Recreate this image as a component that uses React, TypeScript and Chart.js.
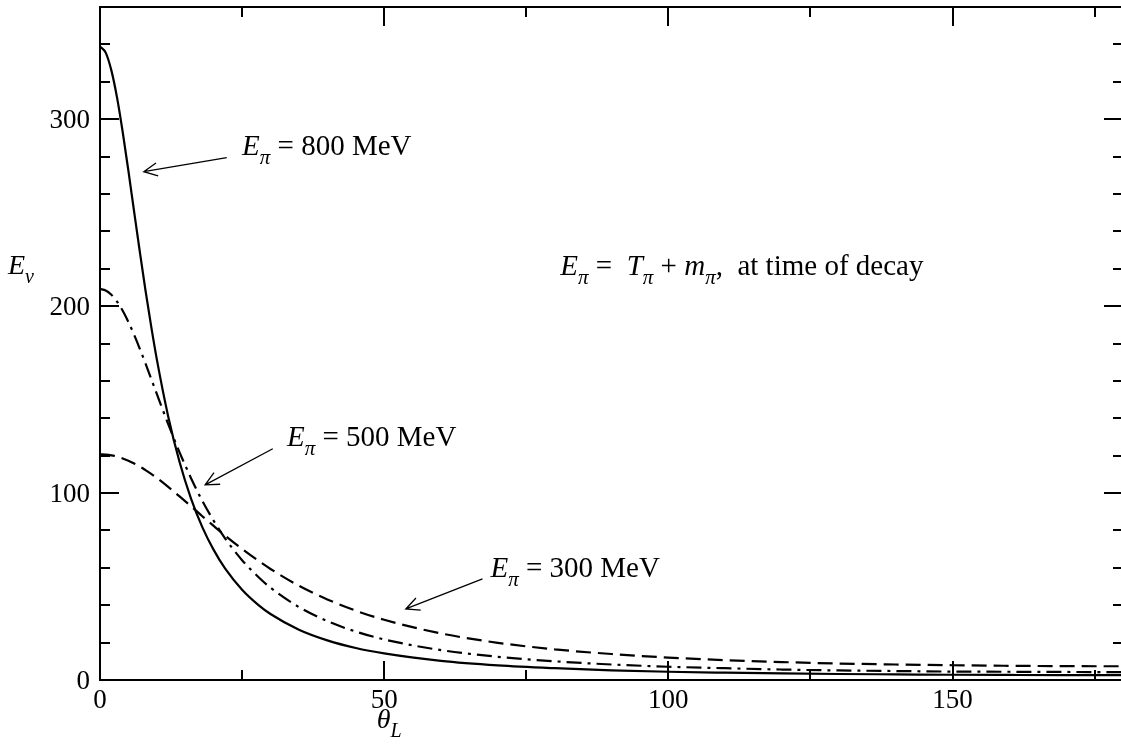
import React, { useEffect, useRef } from "react";
import { Chart, registerables } from "chart.js";

Chart.register(...registerables);

// ---- data ----
const thetaDeg = [0, 1, 2, 3, 4, 5, 6, 7, 8, 9, 10, 12, 14, 16, 18, 20, 22, 25, 28, 30, 35, 40, 45, 50, 60, 70, 80, 90, 100, 110, 120, 130, 140, 150, 160, 170, 180];
const e800 = [338.9, 335.6, 326.1, 311.5, 293.0, 272.3, 250.6, 229.2, 208.5, 189.3, 171.5, 141.0, 116.6, 97.2, 81.8, 69.6, 59.7, 48.3, 39.8, 35.3, 26.9, 21.2, 17.1, 14.2, 10.2, 7.8, 6.3, 5.2, 4.4, 3.9, 3.5, 3.2, 3.0, 2.8, 2.7, 2.6, 2.6];
const e500 = [209.2, 208.4, 206.1, 202.4, 197.5, 191.5, 184.7, 177.2, 169.4, 161.2, 153.0, 136.9, 121.8, 108.1, 95.8, 85.2, 75.8, 64.1, 54.7, 49.4, 39.0, 31.5, 25.9, 21.7, 16.0, 12.4, 10.0, 8.3, 7.1, 6.3, 5.6, 5.1, 4.8, 4.5, 4.4, 4.3, 4.2];
const e300 = [120.7, 120.6, 120.2, 119.5, 118.5, 117.3, 115.8, 114.2, 112.3, 110.3, 108.1, 103.3, 98.2, 93.0, 87.6, 82.4, 77.3, 70.1, 63.5, 59.4, 50.4, 43.1, 37.1, 32.2, 24.9, 19.9, 16.4, 13.9, 12.0, 10.6, 9.6, 8.8, 8.3, 7.9, 7.6, 7.4, 7.35];

const xRange = [0, 180];
const yRange = [0, 360];
const xMajorTicks = [0, 50, 100, 150];
const yMajorTicks = [0, 100, 200, 300];
const xMinorStep = 25;
const yMinorStep = 20;

type Seg = { t: string; it?: boolean; sub?: boolean };

const labelAnnotations: { segs: Seg[]; x: number; y: number; from: number[]; to: number[] }[] = [
  { segs: [{ t: "E", it: true }, { t: "π", it: true, sub: true }, { t: " = 800 MeV" }], x: 25.0, y: 281.0, from: [22.3, 279.4], to: [7.7, 271.9] },
  { segs: [{ t: "E", it: true }, { t: "π", it: true, sub: true }, { t: " = 500 MeV" }], x: 32.9, y: 125.3, from: [30.4, 123.7], to: [18.5, 104.4] },
  { segs: [{ t: "E", it: true }, { t: "π", it: true, sub: true }, { t: " = 300 MeV" }], x: 68.7, y: 55.1, from: [67.3, 54.1], to: [53.8, 38.0] },
];
const formulaText: { segs: Seg[]; x: number; y: number } = {
  segs: [
    { t: "E", it: true }, { t: "π", it: true, sub: true }, { t: " =  " },
    { t: "T", it: true }, { t: "π", it: true, sub: true }, { t: " + " },
    { t: "m", it: true }, { t: "π", it: true, sub: true }, { t: ",  at time of decay" },
  ],
  x: 81.0, y: 216.8,
};
const yTitle: Seg[] = [{ t: "E", it: true }, { t: "ν", it: true, sub: true }];
const xTitle: Seg[] = [{ t: "θ", it: true }, { t: "L", it: true, sub: true }];

const FONT = '"Liberation Serif", "Times New Roman", serif';

function drawRich(ctx: CanvasRenderingContext2D, x: number, y: number, segs: Seg[], size: number) {
  let cx = x;
  ctx.textAlign = "left";
  ctx.textBaseline = "alphabetic";
  for (const s of segs) {
    const sz = s.sub ? Math.round(size * 0.72) : size;
    ctx.font = `${s.it ? "italic " : ""}${sz}px ${FONT}`;
    const dy = s.sub ? size * 0.32 : 0;
    ctx.fillText(s.t, cx, y + dy);
    cx += ctx.measureText(s.t).width;
  }
}

function drawArrow(ctx: CanvasRenderingContext2D, x1: number, y1: number, x2: number, y2: number) {
  ctx.beginPath();
  ctx.moveTo(x1, y1);
  ctx.lineTo(x2, y2);
  const a = Math.atan2(y1 - y2, x1 - x2);
  const L = 15, h = 0.45;
  ctx.moveTo(x2 + L * Math.cos(a + h), y2 + L * Math.sin(a + h));
  ctx.lineTo(x2, y2);
  ctx.lineTo(x2 + L * Math.cos(a - h), y2 + L * Math.sin(a - h));
  ctx.stroke();
}

const framePlugin = {
  id: "frameAndText",
  afterDraw(chart: any) {
    const ctx: CanvasRenderingContext2D = chart.ctx;
    const xs = chart.scales.x;
    const ys = chart.scales.y;
    const { left, right, top, bottom } = chart.chartArea;
    ctx.save();
    ctx.strokeStyle = "#000";
    ctx.fillStyle = "#000";
    ctx.lineWidth = 2;
    ctx.setLineDash([]);
    ctx.strokeRect(left, top, right - left, bottom - top);

    ctx.beginPath();
    for (let v = xRange[0]; v <= xRange[1]; v += xMinorStep) {
      const px = Math.round(xs.getPixelForValue(v));
      const len = xMajorTicks.includes(v) ? 19 : 10;
      ctx.moveTo(px, bottom); ctx.lineTo(px, bottom - len);
      ctx.moveTo(px, top); ctx.lineTo(px, top + len);
    }
    for (let v = yRange[0]; v <= yRange[1]; v += yMinorStep) {
      const py = Math.round(ys.getPixelForValue(v));
      const len = yMajorTicks.includes(v) ? 19 : 10;
      ctx.moveTo(left, py); ctx.lineTo(left + len, py);
      ctx.moveTo(right, py); ctx.lineTo(right - len, py);
    }
    ctx.stroke();

    ctx.font = `27px ${FONT}`;
    ctx.textBaseline = "alphabetic";
    ctx.textAlign = "center";
    for (const v of xMajorTicks) {
      ctx.fillText(String(v), xs.getPixelForValue(v), bottom + 28);
    }
    ctx.textAlign = "right";
    for (const v of yMajorTicks) {
      ctx.fillText(String(v), left - 10, ys.getPixelForValue(v) + 9);
    }

    drawRich(ctx, 8, 274, yTitle, 28);
    drawRich(ctx, xs.getPixelForValue(48.7), 728, xTitle, 28);

    ctx.lineWidth = 1.3;
    for (const a of labelAnnotations) {
      drawRich(ctx, xs.getPixelForValue(a.x), ys.getPixelForValue(a.y), a.segs, 29);
      drawArrow(ctx, xs.getPixelForValue(a.from[0]), ys.getPixelForValue(a.from[1]), xs.getPixelForValue(a.to[0]), ys.getPixelForValue(a.to[1]));
    }
    drawRich(ctx, xs.getPixelForValue(formulaText.x), ys.getPixelForValue(formulaText.y), formulaText.segs, 29);
    ctx.restore();
  },
};

export default function App() {
  const ref = useRef<HTMLCanvasElement | null>(null);
  useEffect(() => {
    if (!ref.current) return;
    const mk = (vals: number[]) => thetaDeg.map((x, i) => ({ x, y: vals[i] }));
    const chart = new Chart(ref.current, {
      type: "line",
      data: {
        datasets: [
          { label: "E_pi = 800 MeV", data: mk(e800), borderColor: "#000", borderWidth: 2.2, pointRadius: 0, cubicInterpolationMode: "monotone", fill: false },
          { label: "E_pi = 500 MeV", data: mk(e500), borderColor: "#000", borderWidth: 2.2, borderDash: [15, 6, 3, 6], pointRadius: 0, cubicInterpolationMode: "monotone", fill: false },
          { label: "E_pi = 300 MeV", data: mk(e300), borderColor: "#000", borderWidth: 2.2, borderDash: [15, 7], pointRadius: 0, cubicInterpolationMode: "monotone", fill: false },
        ],
      },
      options: {
        animation: false,
        responsive: false,
        maintainAspectRatio: false,
        layout: { padding: { left: 100, right: 2, top: 7, bottom: 71 } },
        plugins: { legend: { display: false }, tooltip: { enabled: false } },
        scales: {
          x: { type: "linear", min: xRange[0], max: xRange[1], display: false },
          y: { type: "linear", min: yRange[0], max: yRange[1], display: false },
        },
      },
      plugins: [framePlugin],
    } as any);
    return () => chart.destroy();
  }, []);
  return (
    <div style={{ position: "fixed", left: 0, top: 0, width: 1125, height: 751, background: "#fff" }}>
      <canvas ref={ref} width={1125} height={751} style={{ display: "block", width: 1125, height: 751 }} />
    </div>
  );
}
